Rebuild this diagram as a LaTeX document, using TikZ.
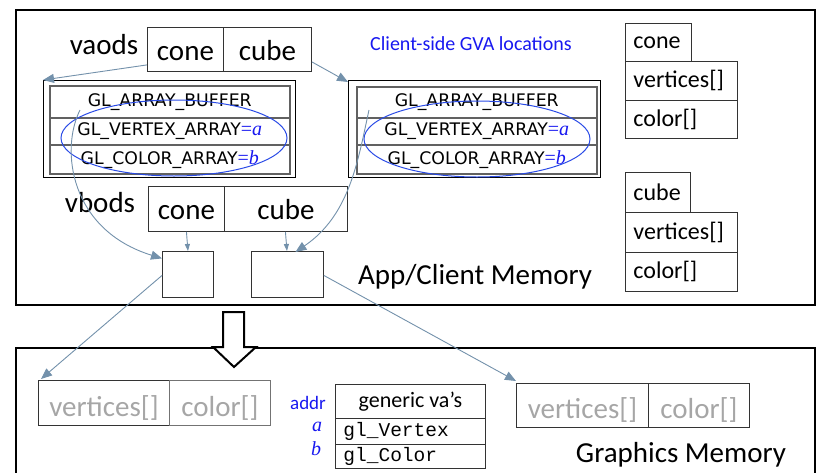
\documentclass[tikz,border=0pt]{standalone}
\usepackage{fontspec}
\setmainfont{Carlito}
\setmonofont{Liberation Mono}
\newfontfamily\glfont{DejaVu Sans}
\newfontfamily\tmsfont{Liberation Serif}
\usetikzlibrary{arrows.meta,calc}
\definecolor{arrowc}{HTML}{7391AB}
\definecolor{ellc}{HTML}{2A4BE6}
\definecolor{txtblue}{HTML}{1818F0}
\definecolor{gtext}{HTML}{A6A6A6}
\newcommand{\eqv}[1]{{\tmsfont\fontsize{20}{20}\selectfont\color{txtblue}=\itshape #1}}
\begin{document}
\begin{tikzpicture}[x=1pt,y=-1pt,
 cellbox/.style={draw=black!80, line width=0.9pt, inner sep=0pt, anchor=north west},
 big/.style={font=\fontsize{29}{34}\selectfont},
 bigcell/.style={big, text height=25pt, text depth=3pt},
 graycell/.style={big, text=gtext, text height=30pt, text depth=3pt},
 mid/.style={font=\fontsize{24}{28}\selectfont},
 leftcell/.style={cellbox, inner xsep=8pt, text width=#1, align=left},
 glrow/.style={draw=black!62, line width=1.5pt, inner sep=0pt, anchor=north west, minimum width=240pt, font=\glfont\fontsize{17.3}{20}\selectfont},
 vaobox/.style={draw=black, line width=0.9pt, anchor=north west, inner sep=0pt, minimum width=252pt, minimum height=97pt},
 conn/.style={draw=arrowc, line width=0.9pt, -{Triangle[length=11pt,width=9pt]}},
 sconn/.style={draw=arrowc, line width=0.9pt, -{Triangle[length=7pt,width=5pt]}},
 ell/.style={draw=ellc, line width=1pt},
 bluelbl/.style={text=txtblue},
]
\useasboundingbox (0,0) rectangle (817,472);
% memory regions
\draw[line width=2pt] (16,10) rectangle (815,305);
\draw[line width=2pt] (16,476) -- (16,348) -- (815,348) -- (815,476);

% vaods
\node[big] (vaodslbl) at (104,45) {vaods};
\node[cellbox, bigcell, minimum width=76pt, minimum height=44pt] (vcone) at (147,27) {cone};
\node[cellbox, bigcell, minimum width=88pt, minimum height=44pt] (vcube) at (223,27) {cube};

\node[bluelbl, font=\fontsize{20}{24}\selectfont] (gvalbl) at (471,44) {Client-side GVA locations};

% left VAO
\node[vaobox] (lvao) at (43,80) {};
\node[glrow, minimum height=32pt] (lr1) at (49,85) {GL\_ARRAY\_BUFFER};
\node[glrow, minimum height=27pt] (lr2) at (49,117) {GL\_VERTEX\_ARRAY\eqv{a}};
\node[glrow, minimum height=29pt] (lr3) at (49,144) {GL\_COLOR\_ARRAY\eqv{b}};
\draw[ell] (174,138) ellipse [x radius=113pt, y radius=38pt];

% right VAO
\node[vaobox] (rvao) at (348,80) {};
\node[glrow, minimum height=31pt] (rr1) at (356,86) {GL\_ARRAY\_BUFFER};
\node[glrow, minimum height=27pt] (rr2) at (356,117) {GL\_VERTEX\_ARRAY\eqv{a}};
\node[glrow, minimum height=29pt] (rr3) at (356,144) {GL\_COLOR\_ARRAY\eqv{b}};
\draw[ell] (477,139) ellipse [x radius=113pt, y radius=38pt];

% cone struct
\node[leftcell=50pt, mid, minimum height=38pt] (sconel) at (625,23) {cone};
\node[leftcell=96pt, mid, minimum height=39pt] (sconev) at (625,61) {vertices[]};
\node[leftcell=96pt, mid, minimum height=38pt] (sconec) at (625,100) {color[]};
% cube struct
\node[leftcell=49pt, mid, minimum height=40pt] (scubel) at (625,172) {cube};
\node[leftcell=96pt, mid, minimum height=39.5pt] (scubev) at (625,212) {vertices[]};
\node[leftcell=96pt, mid, minimum height=39pt] (scubec) at (625,251.5) {color[]};

% vbods
\node[big] (vbodslbl) at (100,203) {vbods};
\node[cellbox, bigcell, minimum width=76pt, minimum height=45pt] (bcone) at (148,186) {cone};
\node[cellbox, bigcell, minimum width=123pt, minimum height=45pt] (bcube) at (224,186) {cube};
\node[cellbox, minimum width=51pt, minimum height=46pt] (box1) at (162,251) {};
\node[cellbox, minimum width=72pt, minimum height=46pt] (box2) at (251,251) {};

\node[big] (applbl) at (475,277) {App/Client Memory};

% graphics memory
\node[cellbox, graycell, minimum width=131pt, minimum height=45pt] (gverts) at (38,380) {vertices[]};
\node[cellbox, draw=black!55, graycell, minimum width=101pt, minimum height=45pt] (gcolor) at (169,380) {color[]};
\node[cellbox, font=\fontsize{22}{26}\selectfont, minimum width=150pt, minimum height=34pt] (gen) at (335,384) {generic va’s};
\node[leftcell=134pt, font=\ttfamily\fontsize{19.5}{22}\selectfont, minimum height=25.5pt] (glv) at (335,418) {gl\_Vertex};
\node[leftcell=134pt, font=\ttfamily\fontsize{19.5}{22}\selectfont, minimum height=24.5pt] (glc) at (335,443.5) {gl\_Color};
\node[bluelbl, font=\fontsize{19}{22}\selectfont] (addrlbl) at (308,403) {addr};
\node[bluelbl, font=\tmsfont\itshape\fontsize{20}{22}\selectfont] (albl) at (317,427) {a};
\node[bluelbl, font=\tmsfont\itshape\fontsize{20}{22}\selectfont] (blbl) at (316,449) {b};
\node[cellbox, graycell, minimum width=132pt, minimum height=44pt] (rverts) at (516,383) {vertices[]};
\node[cellbox, graycell, minimum width=101pt, minimum height=44pt] (rcolor) at (648,383) {color[]};
\node[big] (gmlbl) at (681,455) {Graphics Memory};

% big hollow arrow
\draw[line width=2pt, fill=white, line join=miter] (223,312) -- (244,312) -- (244,347) -- (256,347) -- (234,367) -- (213,347) -- (223,347) -- cycle;

% connectors
\coordinate (lstart) at (80,110);
\coordinate (rstart) at (369,110);
\draw[conn] ($(vcone.south west)+(0,-7)$) -- (lvao.north west);
\draw[conn] ($(vcube.south east)+(0,-10)$) -- ($(rvao.north west)+(0,2)$);
\draw[conn] (lstart) .. controls (60,150) and (70,230) .. ($(box1.west)+(0,-16)$);
\draw[conn] (rstart) .. controls (358,160) and (350,215) .. ($(box2.north)+(8,1)$);
\draw[sconn] (bcone.south) -- (box1.north);
\draw[sconn] ($(bcube.south)+(-0.5,0)$) -- ($(box2.north)+(-0.5,0)$);
\draw[conn] ($(box1.west)+(0,1)$) -- ($(gverts.north west)+(3,-1)$);
\draw[conn] ($(box2.east)+(0,1)$) -- ($(rverts.north west)+(0,-2)$);
\end{tikzpicture}
\end{document}
